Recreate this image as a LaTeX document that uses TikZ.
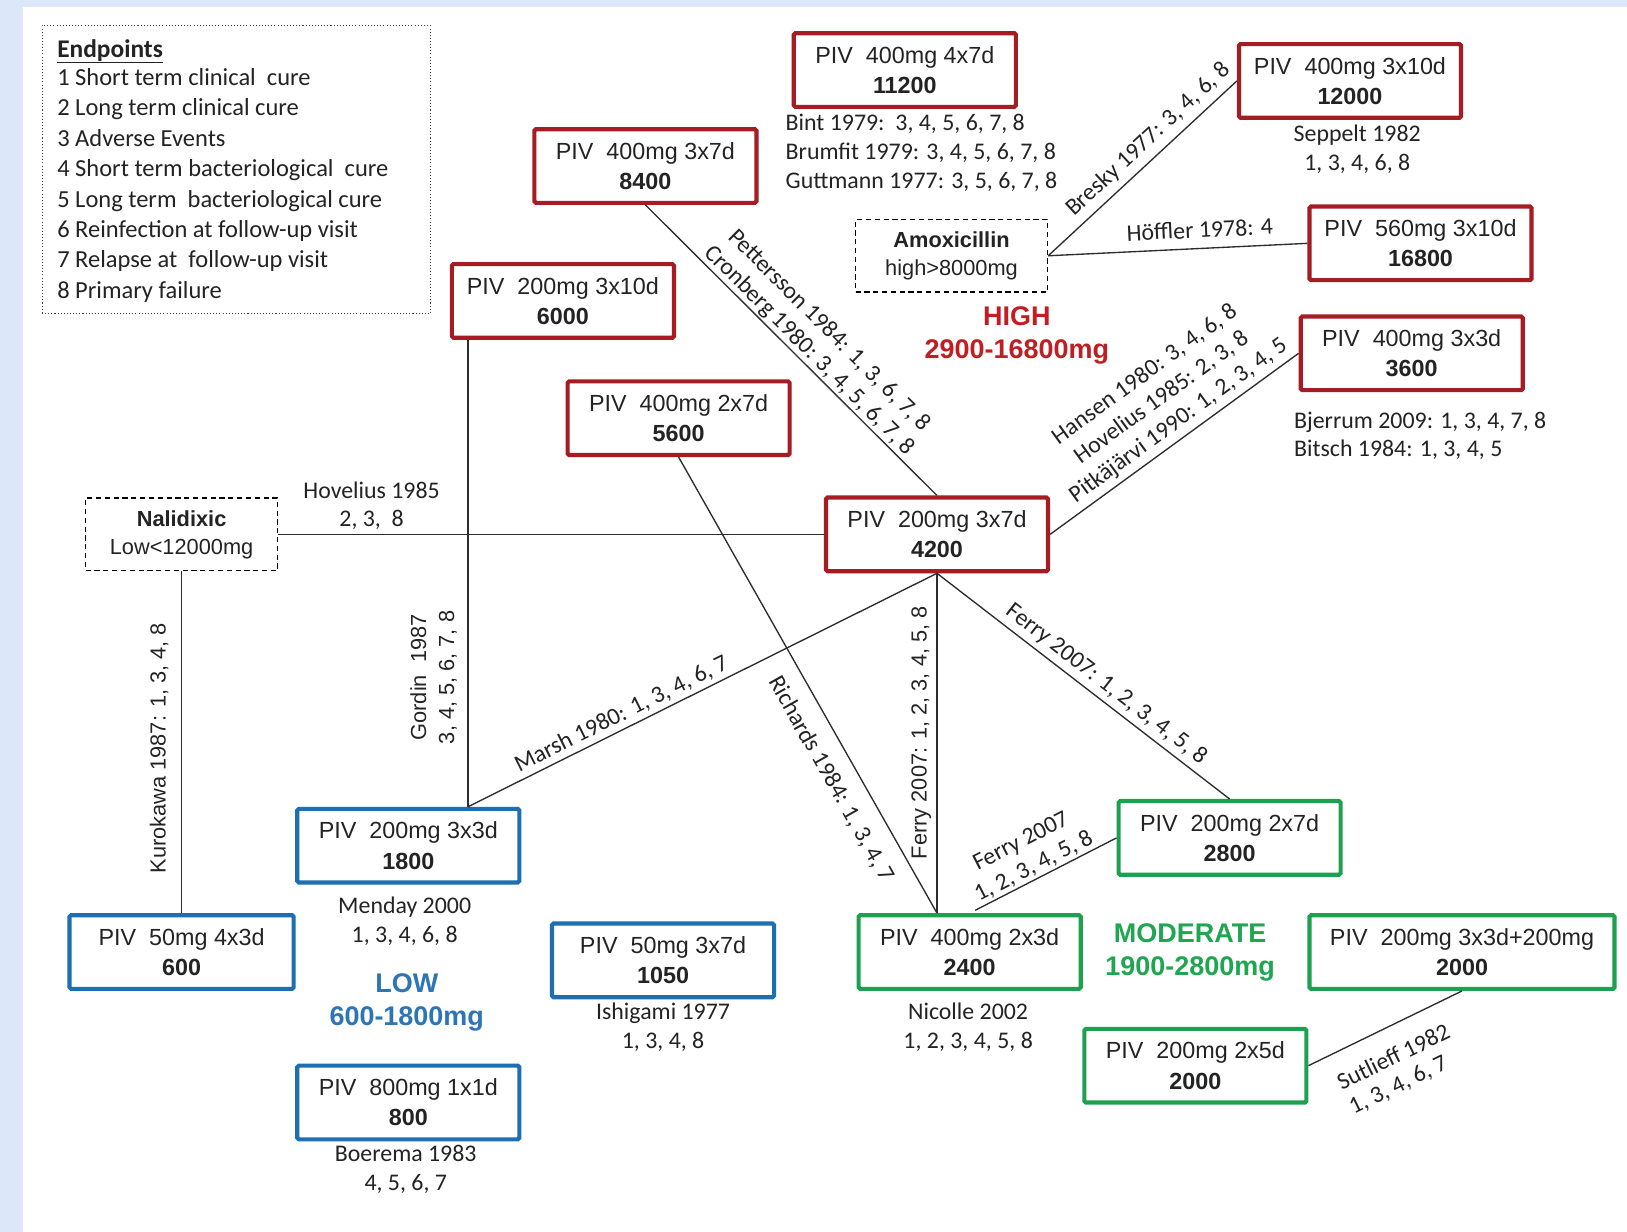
\documentclass[tikz,border=0pt]{standalone}
\usepackage{fontspec}
\setmainfont{Liberation Sans}
\newfontfamily\calfont{Carlito}
\usetikzlibrary{calc}
\definecolor{bgblue}{RGB}{221,231,250}
\definecolor{redbox}{RGB}{165,28,34}
\definecolor{bluebox}{RGB}{30,110,178}
\definecolor{greenbox}{RGB}{30,160,80}
\definecolor{hired}{RGB}{192,30,35}
\definecolor{lowblue}{RGB}{46,117,182}
\definecolor{modgreen}{RGB}{32,165,80}
\definecolor{ink}{RGB}{35,35,35}
\definecolor{linec}{RGB}{45,45,45}
\begin{document}
\begin{tikzpicture}[x=1pt,y=-1pt,
  box/.style={draw, line width=4pt, rounded corners=1.5pt, fill=white, minimum width=214pt, minimum height=71pt, inner sep=0pt, align=center, text=ink, font=\fontsize{22.5}{29}\selectfont},
  redb/.style={box, draw=redbox},
  blueb/.style={box, draw=bluebox},
  greenb/.style={box, draw=greenbox},
  dbox/.style={draw=black, line width=1.4pt, dash pattern=on 5pt off 3.5pt, fill=white, minimum width=185pt, minimum height=70pt, inner sep=0pt, align=center, font=\fontsize{21}{27}\selectfont, text=ink},
  conn/.style={draw=linec, line width=1.3pt},
  lab/.style={font=\calfont\fontsize{23}{27}\selectfont, text=ink, inner sep=0pt, align=center},
  vlab/.style={font=\fontsize{21}{27}\selectfont, text=ink, inner sep=0pt, align=center},
  note/.style={font=\calfont\fontsize{23}{28}\selectfont, text=ink, inner sep=0pt},
  legt/.style={font=\calfont\fontsize{23.6}{28}\selectfont, text=ink, inner sep=0pt, anchor=base west},
  grp/.style={font=\bfseries\fontsize{26}{32}\selectfont, align=center, inner sep=0pt},
]
% background
\fill[bgblue] (0,0) rectangle (1568,1187);
\fill[white] (22,7) rectangle (1568,1187);
\useasboundingbox (0,0) rectangle (1568,1187);

% legend
\node[draw=black!75, dotted, line width=1pt, minimum width=374pt, minimum height=278pt, anchor=north west, inner sep=0pt] (legend) at (40,24) {};
\node[legt, font=\calfont\bfseries\fontsize{24.5}{28}\selectfont] (leg0) at (55,55) {\underline{Endpoints}};
\node[legt] (leg1) at (55,82.5) {1 Short term clinical\ \ cure};
\node[legt] (leg2) at (55,111.7) {2 Long term clinical cure};
\node[legt] (leg3) at (55,141) {3 Adverse Events};
\node[legt] (leg4) at (55,170.2) {4 Short term bacteriological\ \ cure};
\node[legt] (leg5) at (55,199.5) {5 Long term\ \ bacteriological cure};
\node[legt] (leg6) at (55,228.7) {6 Reinfection at follow-up visit};
\node[legt] (leg7) at (55,258) {7 Relapse at\ \ follow-up visit};
\node[legt] (leg8) at (55,287.2) {8 Primary failure};

% red boxes (HIGH)
\node[redb] (r11200) at (872,67.5) {PIV\ \ 400mg 4x7d\\\textbf{11200}};
\node[redb] (r12000) at (1301,78) {PIV\ \ 400mg 3x10d\\\textbf{12000}};
\node[redb] (r8400) at (622,160) {PIV\ \ 400mg 3x7d\\\textbf{8400}};
\node[redb] (r16800) at (1369,234.5) {PIV\ \ 560mg 3x10d\\\textbf{16800}};
\node[redb] (r6000) at (542.5,290) {PIV\ \ 200mg 3x10d\\\textbf{6000}};
\node[redb] (r3600) at (1360.5,340.5) {PIV\ \ 400mg 3x3d\\\textbf{3600}};
\node[redb] (r5600) at (654,403) {PIV\ \ 400mg 2x7d\\\textbf{5600}};
\node[redb] (r4200) at (903,515) {PIV\ \ 200mg 3x7d\\\textbf{4200}};

% dashed comparator boxes
\node[dbox] (amox) at (917,246.5) {\textbf{Amoxicillin}\\high>8000mg};
\node[dbox] (nal) at (175,515) {\textbf{Nalidixic}\\Low<12000mg};

% blue boxes (LOW)
\node[blueb] (b1800) at (393.5,815) {PIV\ \ 200mg 3x3d\\\textbf{1800}};
\node[blueb, minimum width=216pt] (b600) at (175,917.5) {PIV\ \ 50mg 4x3d\\\textbf{600}};
\node[blueb] (b1050) at (639,925.5) {PIV\ \ 50mg 3x7d\\\textbf{1050}};
\node[blueb] (b800) at (393.5,1062.5) {PIV\ \ 800mg 1x1d\\\textbf{800}};

% green boxes (MODERATE)
\node[greenb] (g2800) at (1185,807.5) {PIV\ \ 200mg 2x7d\\\textbf{2800}};
\node[greenb] (g2400) at (934.5,917.5) {PIV\ \ 400mg 2x3d\\\textbf{2400}};
\node[greenb, minimum width=294pt] (g3x3d) at (1409,917.5) {PIV\ \ 200mg 3x3d+200mg\\\textbf{2000}};
\node[greenb] (g2x5d) at (1152,1027) {PIV\ \ 200mg 2x5d\\\textbf{2000}};

% group titles
\node[grp, text=hired] (tHigh) at (980,323) {HIGH\\2900-16800mg};
\node[grp, text=lowblue] (tLow) at (392,966) {LOW\\600-1800mg};
\node[grp, text=modgreen] (tMod) at (1147,918) {MODERATE\\1900-2800mg};

% study notes under boxes
\node[note, anchor=base west] (nBint) at (757,125.5) {Bint 1979:\ \ 3, 4, 5, 6, 7, 8};
\node[note, anchor=base west] (nBrum) at (757,153.5) {Brumfit 1979: 3, 4, 5, 6, 7, 8};
\node[note, anchor=base west] (nGutt) at (757,181.5) {Guttmann 1977: 3, 5, 6, 7, 8};
\node[note, anchor=base] (nSep1) at (1308,136.3) {Seppelt 1982};
\node[note, anchor=base] (nSep2) at (1308,164.3) {1, 3, 4, 6, 8};
\node[note, anchor=base west] (nBje) at (1247,413.3) {Bjerrum 2009: 1, 3, 4, 7, 8};
\node[note, anchor=base west] (nBit) at (1247,440.3) {Bitsch 1984: 1, 3, 4, 5};
\node[note, anchor=base] (nMen1) at (390,880.3) {Menday 2000};
\node[note, anchor=base] (nMen2) at (390,908.3) {1, 3, 4, 6, 8};
\node[note, anchor=base] (nIsh1) at (639,982.3) {Ishigami 1977};
\node[note, anchor=base] (nIsh2) at (639,1010.3) {1, 3, 4, 8};
\node[note, anchor=base] (nNic1) at (933,982.3) {Nicolle 2002};
\node[note, anchor=base] (nNic2) at (933,1010.3) {1, 2, 3, 4, 5, 8};
\node[note, anchor=base] (nBoe1) at (391,1119.3) {Boerema 1983};
\node[note, anchor=base] (nBoe2) at (391,1147.3) {4, 5, 6, 7};

% connectors
\coordinate (gx) at ($(r6000.south west)+(17.5,0)$);

\draw[conn] (nal.east) -- node[lab, sloped, above=3.7pt, pos=0.171] (lHov) {Hovelius 1985\\2, 3,\ \ 8} (r4200.west);
\draw[conn] (b600.north) -- node[vlab, sloped, above=12pt, pos=0.483] (lKur) {Kurokawa 1987: 1, 3, 4, 8} (nal.south);
\draw[conn] (gx |- b1800.north) -- node[vlab, sloped, above=10pt, pos=0.277] (lGor) {Gordin\ \ 1987\\3, 4, 5, 6, 7, 8} (r6000.south -| gx);
\draw[conn] (r4200.south |- g2400.north) -- node[vlab, sloped, above=5pt, pos=0.531] (lFv) {Ferry 2007: 1, 2, 3, 4, 5, 8} (r4200.south);
\draw[conn] (r8400.south) -- node[lab, sloped, above=1.5pt, pos=0.532] (lPet) {Pettersson 1984: 1, 3, 6, 7, 8\\Cronberg 1980: 3, 4, 5, 6, 7, 8} (r4200.north);
\draw[conn] (r5600.south) -- node[lab, sloped, below=15pt, pos=0.678] (lRic) {Richards 1984: 1, 3, 4, 7} (r4200.south |- g2400.north);
\draw[conn] (gx |- b1800.north) -- node[lab, sloped, above=4pt, pos=0.341] (lMar) {Marsh 1980: 1, 3, 4, 6, 7} (r4200.south);
\draw[conn] (r4200.south) -- node[lab, sloped, above=4.5pt, pos=0.546] (lFd) {Ferry 2007: 1, 2, 3, 4, 5, 8} (g2800.north);
\draw[conn] (r4200.east) -- node[lab, sloped, above=5pt, pos=0.555, font=\calfont\fontsize{23}{27.5}\selectfont] (lHan) {Hansen 1980: 3, 4, 6, 8\\Hovelius 1985: 2, 3, 8\\Pitkäjärvi 1990: 1, 2, 3, 4, 5} (r3600.west);
\draw[conn] (amox.east) -- node[lab, sloped, above=6pt, pos=0.593] (lBre) {Bresky 1977: 3, 4, 6, 8} (r12000.west);
\draw[conn] (amox.east) -- node[lab, sloped, above=9.5pt, pos=0.588] (lHof) {Höffler 1978: 4} (r16800.west);
\draw[conn, shorten <=6pt] (g2400.north) -- node[lab, sloped, above=2pt, pos=0.475] (lFl) {Ferry 2007\\1, 2, 3, 4, 5, 8} (g2800.west);
\draw[conn] (g2x5d.east) -- node[lab, sloped, below=19pt, pos=0.469, align=left, font=\calfont\fontsize{23}{26}\selectfont] (lSut) {Sutlieff 1982\\1, 3, 4, 6, 7} (g3x3d.south);
\end{tikzpicture}
\end{document}
